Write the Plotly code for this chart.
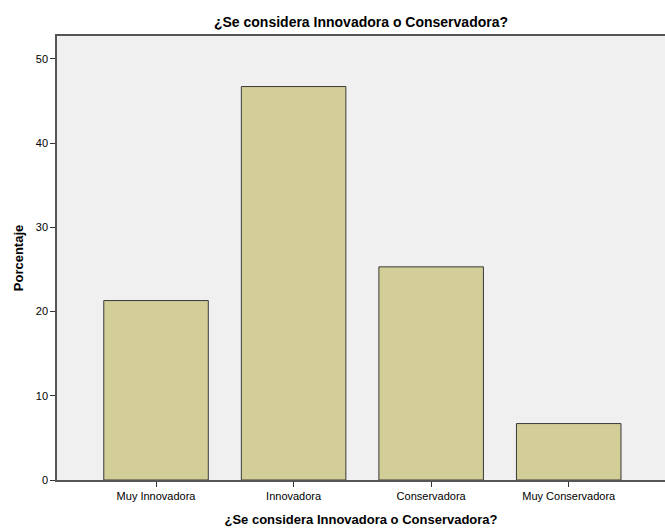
import plotly.graph_objects as go

categories = ["Muy Innovadora", "Innovadora", "Conservadora", "Muy Conservadora"]
porcentaje = [21.3, 46.7, 25.3, 6.7]
y_ticks = [0, 10, 20, 30, 40, 50]
title_text = "¿Se considera Innovadora o Conservadora?"

fig = go.Figure(go.Bar(
    x=categories, y=porcentaje,
    marker=dict(color="#D3CE97", line=dict(color="#3a3a3a", width=1)),
    width=0.76,
))

fig.update_layout(
    width=665, height=529,
    margin=dict(l=57, r=0, t=36, b=49),
    paper_bgcolor="white", plot_bgcolor="#F0F0F0",
    font=dict(family="Liberation Sans, Arial, sans-serif", color="#000"),
    title=dict(text="<b>" + title_text + "</b>", x=0.5, xref="paper", xanchor="center",
               y=1 - 22/529, yref="container", yanchor="middle",
               font=dict(size=14)),
    showlegend=False,
    bargap=0.24,
)
fig.update_xaxes(
    range=[-0.72, 3.70], showgrid=False, zeroline=False,
    showline=True, linecolor="#555", linewidth=1.5, mirror=True,
    ticks="outside", ticklen=5, tickcolor="#333", tickwidth=1,
    tickfont=dict(size=11),
    title=dict(text="<b>" + title_text + "</b>", font=dict(size=13), standoff=14),
)
fig.update_yaxes(
    range=[0, 52.7], tickvals=y_ticks, showgrid=False, zeroline=False,
    showline=True, linecolor="#555", linewidth=1.5,
    ticks="outside", ticklen=5, tickcolor="#333", tickwidth=1,
    tickfont=dict(size=11),
    title=dict(text="<b>Porcentaje</b>", font=dict(size=13), standoff=9),
)
fig.write_html("out.html", config={"displayModeBar": False},
               post_script="document.body.style.margin='0';document.body.style.overflow='hidden';")
